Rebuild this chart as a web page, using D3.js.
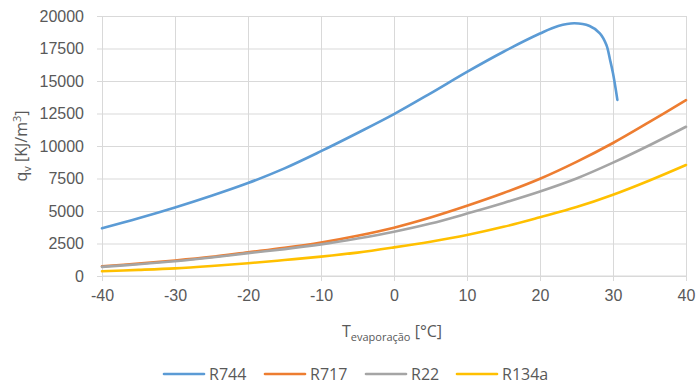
<!DOCTYPE html>
<html>
<head>
<meta charset="utf-8">
<script src="https://cdn.jsdelivr.net/npm/d3@7"></script>
<style>
  html, body { margin: 0; padding: 0; background: #fff; }
  svg { display: block; font-family: "Open Sans", "Noto Sans", sans-serif; }
</style>
</head>
<body>
<svg id="chart" width="696" height="383"></svg>
<script>
// Evaporation temperature (°C) for R717, R22 and R134a
const temps = [-40, -35, -30, -25, -20, -15, -10, -5, 0, 5, 10, 15, 20, 25, 30, 35, 40];
const r717 = [740, 950, 1190, 1470, 1820, 2170, 2580, 3100, 3720, 4500, 5400, 6380, 7480, 8780, 10230, 11850, 13520];
const r22 = [700, 900, 1130, 1420, 1760, 2070, 2430, 2880, 3400, 4030, 4800, 5620, 6500, 7500, 8720, 10060, 11480];
const r134a = [370, 470, 590, 770, 980, 1230, 1490, 1800, 2200, 2640, 3150, 3780, 4520, 5300, 6250, 7350, 8540];

// R744 stops near its critical point, so it has its own temperature list
const tempsR744 = [-40, -35, -30, -25, -20, -15, -10, -5, 0, 5, 10, 15, 20, 22.5, 24.7, 26.8, 28.2, 29.1, 29.6, 30, 30.6];
const r744 = [3670, 4440, 5270, 6170, 7150, 8280, 9600, 11000, 12450, 14050, 15700, 17250, 18650, 19230, 19440, 19230, 18670, 17770, 16620, 15590, 13550];

const xTicks = [-40, -30, -20, -10, 0, 10, 20, 30, 40];
const yTicks = [0, 2500, 5000, 7500, 10000, 12500, 15000, 17500, 20000];

const series = [
  { name: "R744", x: tempsR744, y: r744, color: "#5B9BD5" },
  { name: "R717", x: temps, y: r717, color: "#ED7D31" },
  { name: "R22", x: temps, y: r22, color: "#A5A5A5" },
  { name: "R134a", x: temps, y: r134a, color: "#FFC000" }
];

const svg = d3.select("#chart");
const plotL = 102, plotR = 686, plotT = 16, plotB = 276;
const x = d3.scaleLinear().domain([-40, 40]).range([plotL, plotR]);
const y = d3.scaleLinear().domain([0, 20000]).range([plotB, plotT]);
const textColor = "#595959";
const gridColor = "#d9d9d9";

// Horizontal gridlines with y axis labels
const yAxis = d3.axisLeft(y).tickValues(yTicks).tickSize(plotR - plotL + 5).tickPadding(12).tickFormat(d => String(d));
const gy = svg.append("g").attr("transform", `translate(${plotR},0)`).call(yAxis);
gy.select(".domain").remove();
gy.selectAll(".tick line").attr("stroke", gridColor).attr("stroke-width", 1);
gy.selectAll(".tick text").attr("fill", textColor).style("font-size", "16px").attr("x", -(plotR - plotL) - 18);

// Vertical gridlines with x axis labels
const xAxis = d3.axisBottom(x).tickValues(xTicks).tickSize(-(plotB - plotT)).tickPadding(0).tickFormat(d => String(d));
const gx = svg.append("g").attr("transform", `translate(0,${plotB})`).call(xAxis);
gx.select(".domain").remove();
gx.selectAll(".tick line").attr("stroke", gridColor).attr("stroke-width", 1).attr("y2", 5).attr("y1", -(plotB - plotT));
gx.selectAll(".tick text").attr("fill", textColor).style("font-size", "16px").attr("y", 14);

// Bottom axis line
svg.append("line").attr("x1", plotL).attr("x2", plotR).attr("y1", plotB).attr("y2", plotB)
  .attr("stroke", gridColor).attr("stroke-width", 1.2);

// Series lines
const line = d3.line().curve(d3.curveCatmullRom.alpha(0.5));
series.forEach(s => {
  const pts = s.x.map((t, i) => [x(t), y(s.y[i])]);
  svg.append("path").attr("d", line(pts)).attr("fill", "none")
    .attr("stroke", s.color).attr("stroke-width", 2.6).attr("stroke-linecap", "round").attr("stroke-linejoin", "round");
});

// X axis title
const xt = svg.append("text").attr("x", (plotL + plotR) / 2 - 2).attr("y", 337).attr("text-anchor", "middle")
  .attr("fill", textColor).style("font-size", "16px");
xt.append("tspan").text("T");
xt.append("tspan").attr("dy", 4).style("font-size", "11px").text("evaporação");
xt.append("tspan").attr("dy", -4).text(" [°C]");

// Y axis title
const yt = svg.append("text").attr("transform", `translate(27,${(plotT + plotB) / 2}) rotate(-90)`)
  .attr("text-anchor", "middle").attr("fill", textColor).style("font-size", "16px");
yt.append("tspan").text("q");
yt.append("tspan").attr("dy", 4).style("font-size", "11px").text("v");
yt.append("tspan").attr("dy", -4).text(" [KJ/m");
yt.append("tspan").attr("dy", -6).style("font-size", "11px").text("3");
yt.append("tspan").attr("dy", 6).text("]");

// Legend
const legendX = [164, 265, 366, 457];
const leg = svg.append("g");
series.forEach((s, i) => {
  const g = leg.append("g").attr("transform", `translate(${legendX[i]},374)`);
  g.append("line").attr("x1", 0).attr("x2", 40).attr("y1", 0).attr("y2", 0)
    .attr("stroke", s.color).attr("stroke-width", 2.6).attr("stroke-linecap", "round");
  g.append("text").attr("x", 45).attr("y", 5.5).attr("fill", textColor).style("font-size", "16px").text(s.name);
});
</script>
</body>
</html>
